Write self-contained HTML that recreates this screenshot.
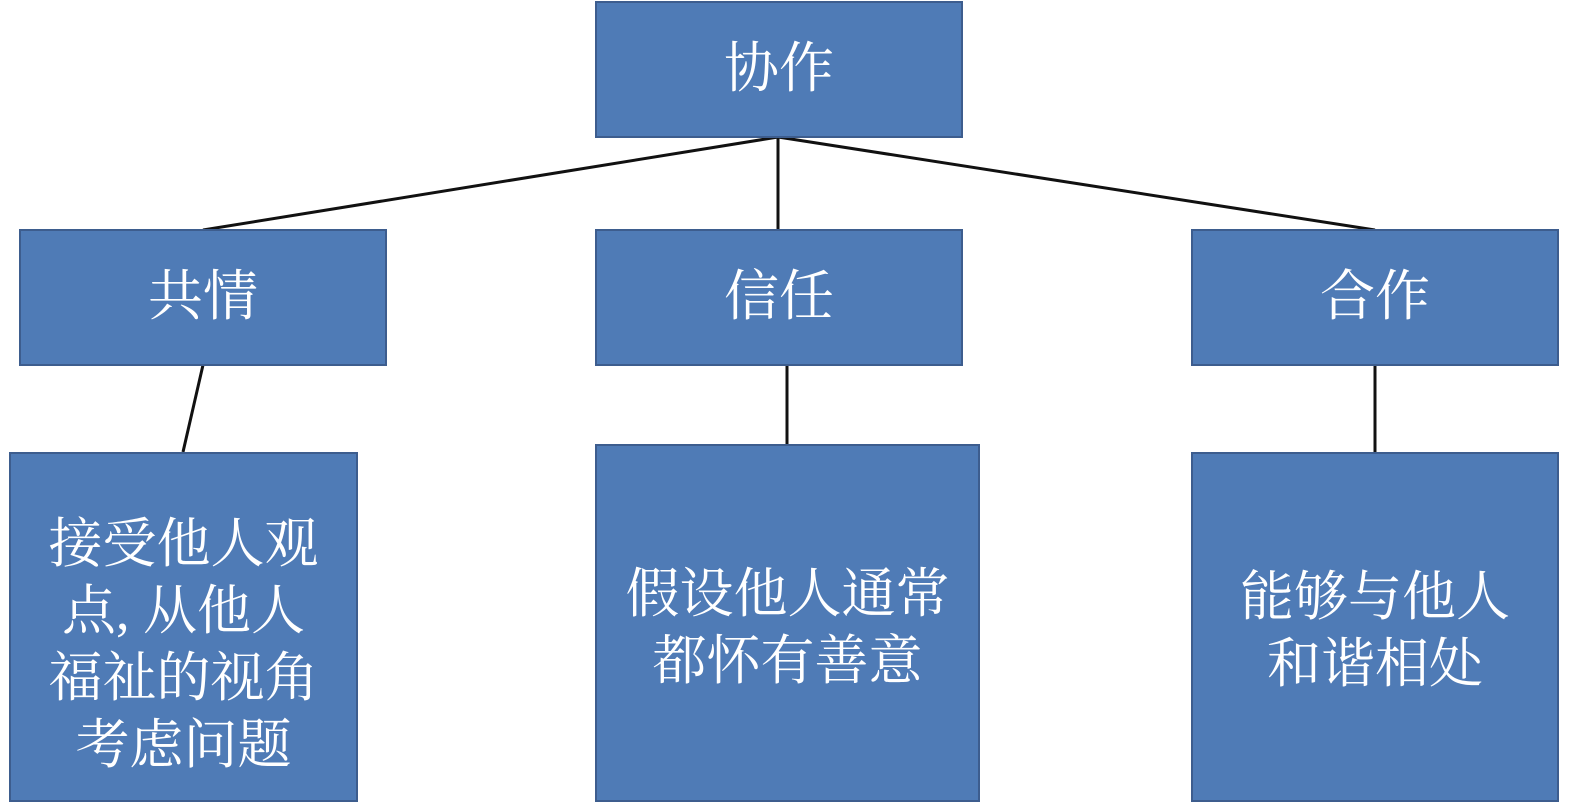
<!DOCTYPE html>
<html><head><meta charset="utf-8"><style>
body{margin:0;width:1575px;height:807px;background:#fff;position:relative;overflow:hidden;font-family:"Liberation Serif","Noto Serif CJK SC",serif;}
.b{position:absolute;box-sizing:border-box;background:#4f7bb6;border:2px solid #3d5d8e;color:#fff;display:flex;align-items:center;justify-content:center;text-align:center;}
.t{font-size:55px;padding-bottom:12px;}
.s{font-size:54px;line-height:67px;}
svg{position:absolute;left:0;top:0;}
</style></head><body>
<svg width="1575" height="807"><g stroke="#111" stroke-width="3" fill="none">
<line x1="778" y1="137" x2="203" y2="230"/>
<line x1="778" y1="137" x2="778" y2="230"/>
<line x1="778" y1="137" x2="1375" y2="230"/>
<line x1="203" y1="365" x2="183" y2="452"/>
<line x1="787" y1="365" x2="787" y2="452"/>
<line x1="1375" y1="365" x2="1375" y2="452"/>
</g></svg>
<div class="b t" style="left:595px;top:1px;width:368px;height:137px">协作</div>
<div class="b t" style="left:19px;top:229px;width:368px;height:137px">共情</div>
<div class="b t" style="left:595px;top:229px;width:368px;height:137px">信任</div>
<div class="b t" style="left:1191px;top:229px;width:368px;height:137px">合作</div>
<div class="b s" style="left:9px;top:452px;width:349px;height:350px;padding-top:36px">接受他人观<br>点, 从他人<br>福祉的视角<br>考虑问题</div>
<div class="b s" style="left:595px;top:444px;width:385px;height:358px;padding-bottom:-10px;padding-top:10px">假设他人通常<br>都怀有善意</div>
<div class="b s" style="left:1191px;top:452px;width:368px;height:350px;padding-top:8px">能够与他人<br>和谐相处</div>
</body></html>
